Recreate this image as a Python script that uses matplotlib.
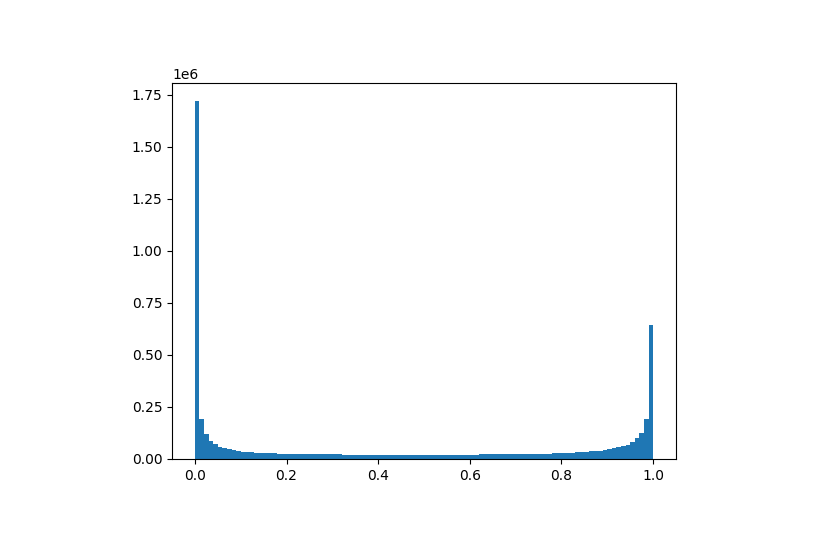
import numpy as np
import matplotlib
matplotlib.use("Agg")
import matplotlib.pyplot as plt

# histogram counts (thousands) for 100 equal bins on [0, 1]
counts_k = [
    1720, 192, 118, 88, 70, 60, 52, 46, 42, 39,
    36, 34, 32, 31, 30, 29, 28, 27, 26, 25.5,
    25, 24.6, 24.2, 23.9, 23.6, 23.4, 23.2, 23, 22.9, 22.8,
    22.7, 22.6, 20.6, 20.2, 19.8, 19.5, 19.2, 18.9, 18.6, 18.4,
    18.2, 18, 17.9, 17.8, 17.7, 17.6, 17.5, 17.5, 17.5, 17.6,
    17.7, 17.8, 17.9, 18.1, 18.3, 18.5, 18.8, 19.1, 19.4, 19.7,
    20.1, 20.5, 22.6, 22.8, 23, 23.2, 23.4, 23.6, 23.8, 24,
    24.2, 24.4, 24.6, 24.8, 25, 25.2, 25.8, 26.4, 27.1, 27.8,
    28.6, 29.5, 30.5, 31.6, 32.9, 34.4, 36.1, 38.1, 40.4, 43.1,
    46.4, 51, 56, 61, 69, 80, 99, 127, 192, 644,
]
bin_edges = np.linspace(0.0, 1.0, 101)

counts = np.array(counts_k) * 1000.0
centers = (bin_edges[:-1] + bin_edges[1:]) / 2

fig = plt.figure(figsize=(8.3, 5.37), dpi=100)
ax = fig.add_axes([172 / 830, 78 / 537, 504 / 830, 376 / 537])
ax.hist(centers, bins=bin_edges, weights=counts, color="#1f77b4")
fig.savefig("out.png", dpi=100)
